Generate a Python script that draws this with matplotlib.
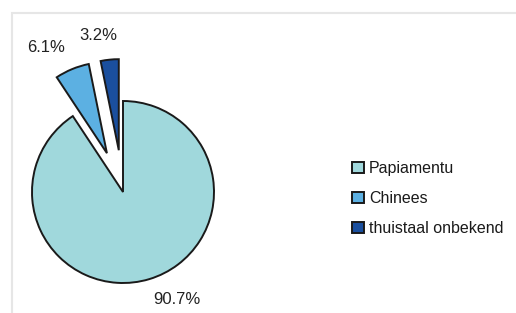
import matplotlib.pyplot as plt
from matplotlib.patches import Rectangle

labels = ['Papiamentu', 'Chinees', 'thuistaal onbekend']
shares = [90.7, 6.1, 3.2]
pct_labels = ['90.7%', '6.1%', '3.2%']
colours = ['#a0d8dc', '#5cb0e2', '#1a4f9e']

plt.rcParams['font.family'] = ['Liberation Sans', 'DejaVu Sans']

fig = plt.figure(figsize=(5.16, 3.13), dpi=100)
ax = fig.add_axes([0, 0, 1, 1])
ax.axis('off')

# faint frame of the original chart area
ax.add_patch(Rectangle((12, -5), 520, 305, facecolor='none',
                       edgecolor='#e6e6e6', lw=1.5))

wedges, texts = ax.pie(shares, colors=colours, startangle=90,
                       counterclock=False, explode=[0, 42, 42],
                       center=(123, 121), radius=91, labels=pct_labels,
                       wedgeprops=dict(edgecolor='#1a1a1a', linewidth=1.4),
                       textprops=dict(fontsize=12, color='#222222'))
ax.set_xlim(0, 516)
ax.set_ylim(0, 313)
ax.set_aspect('equal')

# label positions (pixels, y up)
label_pos = [(177, 13), (46, 266), (98, 278)]
for t, pos in zip(texts, label_pos):
    t.set_position(pos)
    t.set_ha('center')
    t.set_va('center')

leg = ax.legend(wedges, labels, loc='center left',
                bbox_to_anchor=(0.683, 0.365), frameon=False, fontsize=11.5,
                handlelength=0.7, handleheight=0.7, handletextpad=0.35,
                labelspacing=0.95, borderpad=0, borderaxespad=0)
for t in leg.get_texts():
    t.set_color('#1a1a1a')

fig.savefig('out.png', dpi=100)
